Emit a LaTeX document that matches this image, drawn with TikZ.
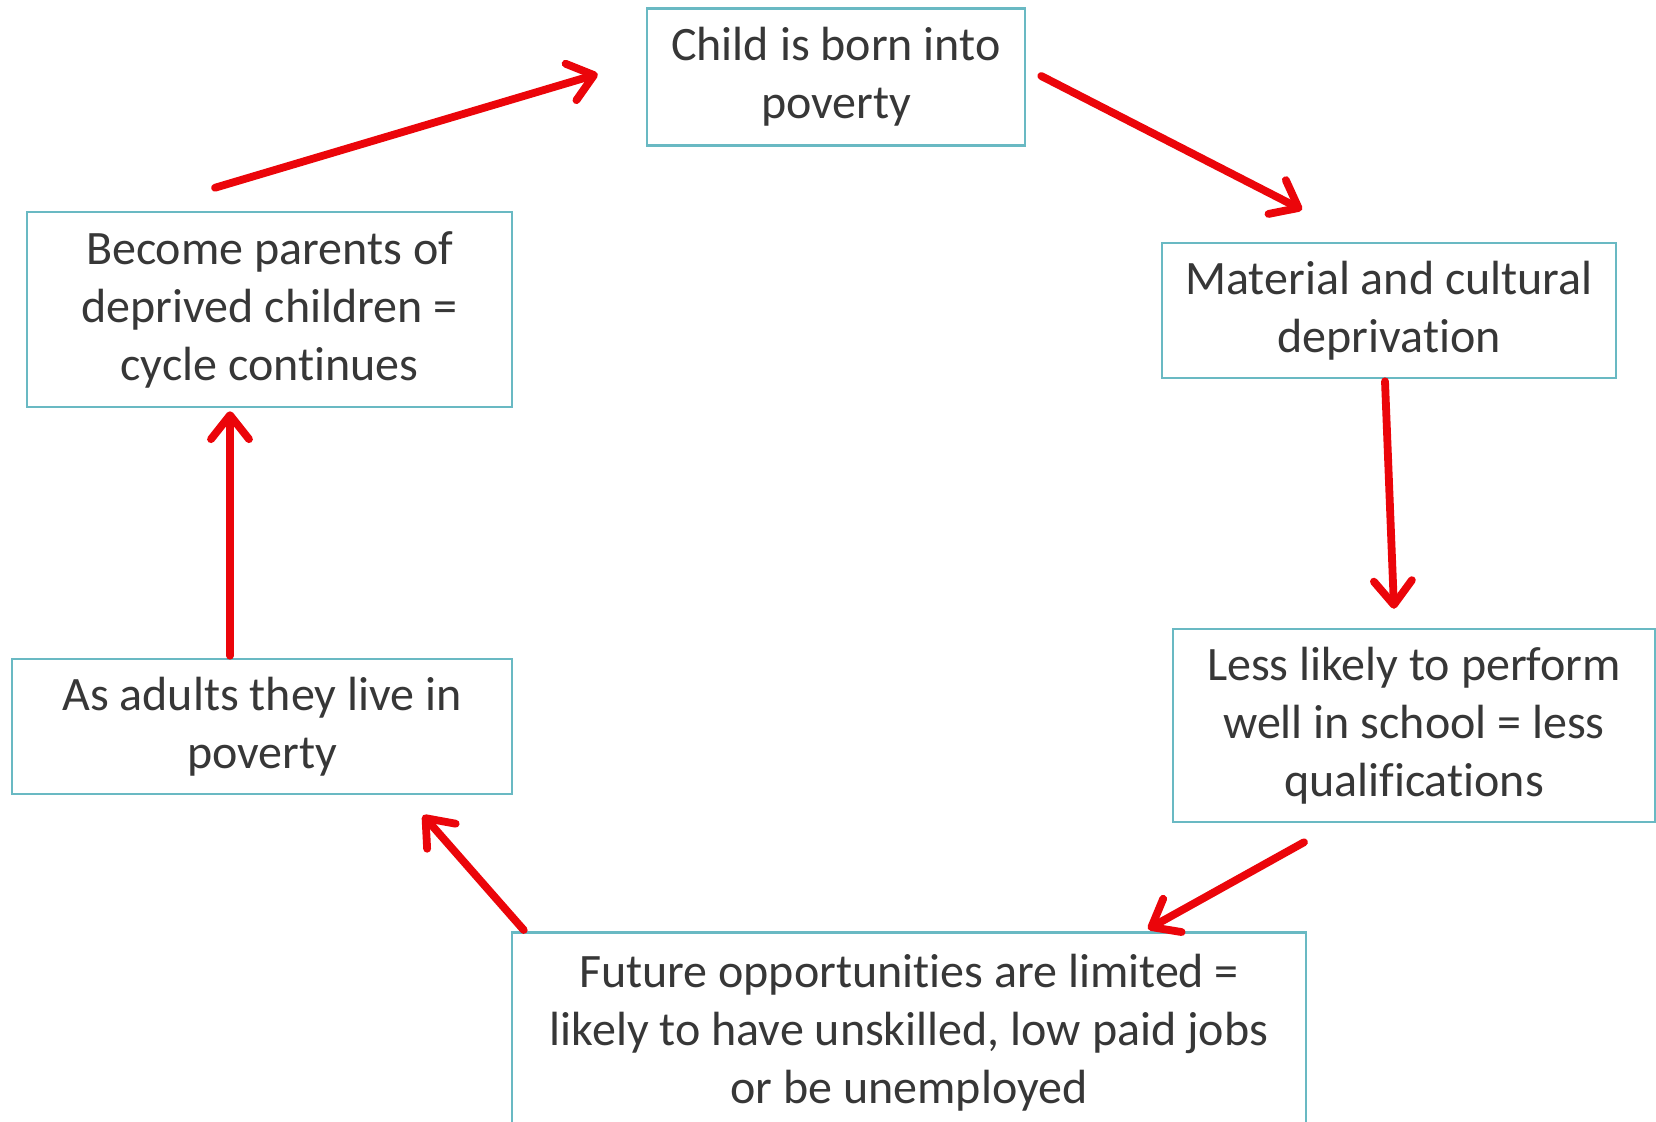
\documentclass[tikz,border=0pt]{standalone}
\usepackage{fontspec}
\setmainfont[Ligatures={NoCommon}]{Carlito}
\usetikzlibrary{arrows.meta,calc}
\definecolor{boxcol}{RGB}{105,185,195}
\definecolor{arrred}{RGB}{235,5,10}
\definecolor{txtcol}{RGB}{55,55,55}
\definecolor{bgA}{RGB}{250,250,250}
\definecolor{bgB}{RGB}{228,228,228}
\pgfdeclareradialshading{vign}{\pgfpoint{0bp}{0bp}}{color(0bp)=(white); color(34bp)=(white); color(50bp)=(bgA); color(71bp)=(bgB)}
\tikzset{
  box/.style={draw=boxcol, line width=1.25pt, fill=white, align=center, inner sep=0pt,
    text=txtcol, font=\fontsize{24pt}{29pt}\selectfont},
  arr/.style={draw=arrred, line width=3.9pt, line cap=round,
    -{Straight Barb[length=12pt,width=19pt,round]}}
}
\begin{document}
\begin{tikzpicture}[x=0.5pt,y=-0.5pt]
\useasboundingbox (0,0) rectangle (1656,1121);
\clip (0,0) rectangle (1656,1121);
\shade[shading=vign] (0,0) rectangle (1656,1121);

\node[box, minimum width=189pt, minimum height=68.5pt] (child) at (836,77) {Child is born into\\poverty};
\node[box, minimum width=227pt, minimum height=67.5pt] (material) at (1389,310.5) {Material and cultural\\deprivation};
\node[box, minimum width=241pt, minimum height=96.5pt] (less) at (1414,725.5) {Less likely to perform\\well in school = less\\qualifications};
\node[box, minimum width=397pt, minimum height=100pt, anchor=north] (future) at (909,931) {Future opportunities are limited =\\likely to have unskilled, low paid jobs\\or be unemployed};
\node[box, minimum width=250pt, minimum height=67.5pt] (adults) at (262,726.5) {As adults they live in\\poverty};
\node[box, minimum width=242.5pt, minimum height=97.5pt] (become) at (269.5,309.5) {Become parents of\\deprived children =\\cycle continues};

\draw[arr] ($(become.north)+(-54.5,-23)$) -- ($(child.west)+(-48,-3)$);
\draw[arr] ($(child.east)+(15,-1)$) -- ($(material.north)+(-87,-32)$);
\draw[arr] ($(material.south)+(-4,2)$) -- ($(less.north)+(-20,-19)$);
\draw[arr] ($(less.south)+(-110,19)$) -- ($(future.north)+(239,-2)$);
\draw[arr] ($(future.north west)+(13,-1)$) -- ($(adults.south)+(161,20)$);
\draw[arr] ($(adults.north)+(-32,-2)$) -- ($(become.south)+(-39.5,3)$);
\end{tikzpicture}
\end{document}
